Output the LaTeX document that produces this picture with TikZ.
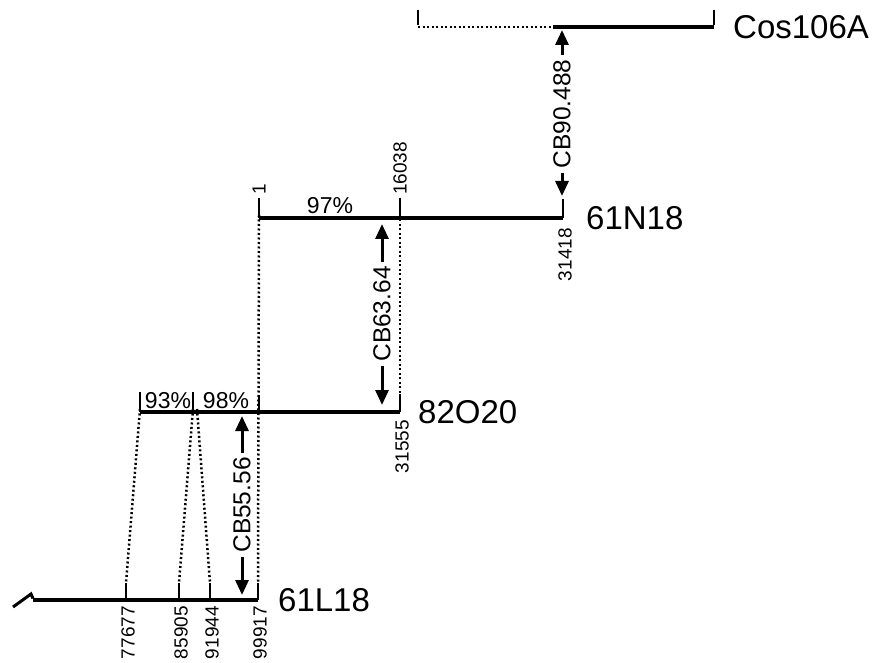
\documentclass[tikz,border=0pt]{standalone}
\usepackage{fontspec}
\setmainfont{Liberation Sans}
\usetikzlibrary{arrows.meta}
\begin{document}
\begin{tikzpicture}[x=1pt,y=-1pt,
  clone/.style={line width=3.2pt},
  tick/.style={line width=2.2pt},
  link/.style={line width=2.5pt,dash pattern=on 2pt off 2.5pt},
  big/.style={font=\fontsize{33}{36}\selectfont,anchor=west,inner sep=0pt},
  num/.style={font=\fontsize{19}{21}\selectfont,rotate=90,inner sep=0pt},
  pct/.style={font=\fontsize{23}{25}\selectfont,inner sep=0pt},
  cb/.style={font=\fontsize{24.5}{26}\selectfont,rotate=90,inner sep=4pt},
  cbarrow/.style={line width=3pt,-{Triangle[length=15pt,width=13pt]}}]
\useasboundingbox (0,0) rectangle (873,663);

% ---------- Cos106A ----------
\coordinate (cA) at (418,27);
\coordinate (cM) at (553,27);
\coordinate (cB) at (714,27);
\coordinate (cAt) at (418,10);
\coordinate (cBt) at (714,10);
\draw[link] (cA) -- (cM);
\draw[clone] (cM) -- (cB);
\draw[tick] (cAt) -- ([yshift=1.5pt]cA);
\draw[tick] (cBt) -- ([yshift=1.5pt]cB);
\node[big] (lcos) at (733,27) {Cos106A};

% ---------- 61N18 ----------
\coordinate (nA) at (259,218);
\coordinate (nB) at (400,218);
\coordinate (nC) at (563,218);
\coordinate (nAt) at (259,198);
\coordinate (nBt) at (400,198);
\coordinate (nCt) at (563,199);
\draw[clone] (nA) -- (nC);
\draw[tick] (nAt) -- (nA);
\draw[tick] (nBt) -- (nB);
\draw[tick] (nCt) -- (nC);
\node[num,anchor=west] (n1) at (259,195) {1};
\node[num,anchor=west] (n16038) at (400,195) {16038};
\node[num,anchor=east] (n31418) at (565,228) {31418};
\node[pct] (p97) at (330,206) {97\%};
\node[big] (l61n) at (586,218) {61N18};

% ---------- 82O20 ----------
\coordinate (oA) at (140,412);
\coordinate (oB) at (193,412);
\coordinate (oB2) at (197,412);
\coordinate (oC) at (259,412);
\coordinate (oD) at (400,412);
\coordinate (oAt) at (140,392);
\coordinate (oBt) at (193,392);
\coordinate (oCt) at (259,395);
\coordinate (oDt) at (400,394);
\draw[clone] (oA) -- (oD);
\draw[tick] (oAt) -- (oA);
\draw[tick] (oBt) -- (oB);
\draw[tick] (oCt) -- (oC);
\draw[tick] (oDt) -- (oD);
\node[num,anchor=east] (n31555) at (402,420) {31555};
\node[pct] (p93) at (168,401) {93\%};
\node[pct] (p98) at (226,401) {98\%};
\node[big] (l82o) at (418,412) {82O20};

% ---------- 61L18 ----------
\coordinate (lZ1) at (13,607);
\coordinate (lZ2) at (31,594);
\coordinate (lA) at (33,600);
\coordinate (lB) at (258,600);
\coordinate (t1) at (126,600);
\coordinate (t2) at (179,600);
\coordinate (t3) at (210,600);
\coordinate (t1t) at (126,583);
\coordinate (t2t) at (179,583);
\coordinate (t3t) at (210,583);
\coordinate (lBt) at (258,583);
\draw[line width=3pt] (lZ1) -- (lZ2) -- ([yshift=1.5pt]lA);
\draw[clone] (lA) -- (lB);
\draw[tick] (t1t) -- (t1);
\draw[tick] (t2t) -- (t2);
\draw[tick] (t3t) -- (t3);
\draw[tick] (lBt) -- (lB);
\node[num,anchor=east] (n77677) at (128,606) {77677};
\node[num,anchor=east] (n85905) at (181,606) {85905};
\node[num,anchor=east] (n91944) at (212,606) {91944};
\node[num,anchor=east] (n99917) at (260,606) {99917};
\node[big] (l61l) at (278,600) {61L18};

% ---------- dotted links ----------
\draw[link] ([yshift=3pt]nA) -- (lBt);
\draw[link] ([yshift=3pt]nB) -- (oDt);
\draw[link] ([yshift=3pt]oA) -- (t1t);
\draw[link] ([yshift=3pt]oB) -- (t2t);
\draw[link] ([yshift=3pt]oB2) -- (t3t);

% ---------- CB arrows ----------
\node[cb] (cb90) at (562,114) {CB90.488};
\coordinate (cb90t) at (562,30);
\coordinate (cb90b) at (562,196);
\draw[cbarrow] (cb90.east) -- (cb90t);
\draw[cbarrow] (cb90.west) -- (cb90b);

\node[cb] (cb63) at (382,314) {CB63.64};
\coordinate (cb63t) at (382,224);
\coordinate (cb63b) at (382,405);
\draw[cbarrow] (cb63.east) -- (cb63t);
\draw[cbarrow] (cb63.west) -- (cb63b);

\node[cb] (cb55) at (242,505) {CB55.56};
\coordinate (cb55t) at (242,416);
\coordinate (cb55b) at (242,595);
\draw[cbarrow] (cb55.east) -- (cb55t);
\draw[cbarrow] (cb55.west) -- (cb55b);
\end{tikzpicture}
\end{document}
